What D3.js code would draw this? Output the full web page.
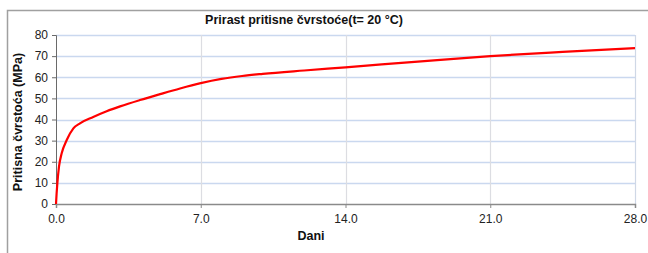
<!DOCTYPE html>
<html>
<head>
<meta charset="utf-8">
<script src="https://cdn.jsdelivr.net/npm/d3@7"></script>
<style>
  html, body { margin: 0; padding: 0; background: #fff; }
  svg { display: block; font-family: "Liberation Sans", Arial, sans-serif; }
</style>
</head>
<body>
<div id="chart"></div>
<script>
// days and strength
const days = [0, 0.03, 0.065, 0.145, 0.275, 0.52, 0.84, 1.16, 1.8, 2.45, 3.1, 4.06, 5.03, 6, 7, 8, 9, 10, 12, 14, 17.5, 21, 24.5, 28]
const strength = [0, 5, 9.8, 17.7, 24, 30.3, 35.8, 38.2, 41.2, 43.9, 46.2, 49.2, 52.0, 54.7, 57.2, 59.2, 60.6, 61.6, 63.2, 64.7, 67.4, 70.0, 72.0, 73.8]
const xTicks = [0, 7, 14, 21, 28]
const yTicks = [0, 10, 20, 30, 40, 50, 60, 70, 80]

const W = 648, H = 253
const m = { left: 56, right: 13, top: 35, bottom: 49 }

const svg = d3.select('#chart').append('svg').attr('width', W).attr('height', H)

// outer frame (top + left)
svg.append('path')
  .attr('d', `M7.5,${H} V10.5 H${W}`)
  .attr('fill', 'none')
  .attr('stroke', '#a0a0a0')
  .attr('stroke-width', 1.5)

const x = d3.scaleLinear().domain([0, 28]).range([m.left, W - m.right])
const y = d3.scaleLinear().domain([0, 80]).range([H - m.bottom, m.top])

// horizontal grid
svg.append('g')
  .selectAll('line')
  .data(yTicks.filter(d => d > 0))
  .enter()
  .append('line')
  .attr('x1', x(0)).attr('x2', x(28))
  .attr('y1', d => Math.round(y(d)) + 0.5).attr('y2', d => Math.round(y(d)) + 0.5)
  .attr('stroke', '#cad8ef')
  .attr('stroke-width', 1.5)

// vertical grid
svg.append('g')
  .selectAll('line')
  .data(xTicks.filter(d => d > 0))
  .enter()
  .append('line')
  .attr('x1', d => Math.round(x(d)) + 0.5).attr('x2', d => Math.round(x(d)) + 0.5)
  .attr('y1', y(80)).attr('y2', y(0))
  .attr('stroke', d => d === 28 ? '#cfd8e6' : '#dcdde2')
  .attr('stroke-width', 1.2)

// y axis
const yAxis = svg.append('g')
  .attr('transform', `translate(${m.left},0)`)
  .call(d3.axisLeft(y).tickValues(yTicks).tickSize(4).tickPadding(4))
yAxis.select('.domain').attr('stroke', '#6a6a6a')
yAxis.selectAll('.tick line').attr('stroke', '#6a6a6a')
yAxis.selectAll('text').attr('font-size', 12).attr('fill', '#222').attr('font-family', 'Liberation Sans, Arial, sans-serif')

// x axis
const xAxis = svg.append('g')
  .attr('transform', `translate(0,${H - m.bottom})`)
  .call(d3.axisBottom(x).tickValues(xTicks).tickFormat(d3.format('.1f')).tickSize(4).tickPadding(6))
xAxis.select('.domain').attr('stroke', '#8a8a8a').attr('stroke-width', 1.5)
xAxis.selectAll('.tick line').attr('stroke', '#8a8a8a')
xAxis.selectAll('text').attr('font-size', 12).attr('fill', '#222').attr('font-family', 'Liberation Sans, Arial, sans-serif')

// the strength curve
const line = d3.line()
  .curve(d3.curveMonotoneX)
  .x((d, i) => x(days[i]))
  .y((d, i) => y(strength[i]))

svg.append('path')
  .datum(strength)
  .attr('d', line)
  .attr('fill', 'none')
  .attr('stroke', '#ff0000')
  .attr('stroke-width', 2.2)

// titles
svg.append('text')
  .attr('x', 304).attr('y', 24)
  .attr('text-anchor', 'middle')
  .attr('font-size', 12.5).attr('font-weight', 'bold').attr('fill', '#111')
  .text('Prirast pritisne čvrstoće(t= 20 °C)')

svg.append('text')
  .attr('x', 311).attr('y', 240)
  .attr('text-anchor', 'middle')
  .attr('font-size', 12.5).attr('font-weight', 'bold').attr('fill', '#111')
  .text('Dani')

svg.append('text')
  .attr('transform', 'translate(22,122) rotate(-90)')
  .attr('text-anchor', 'middle')
  .attr('font-size', 12.5).attr('font-weight', 'bold').attr('fill', '#111')
  .text('Pritisna čvrstoća (MPa)')
</script>
</body>
</html>
